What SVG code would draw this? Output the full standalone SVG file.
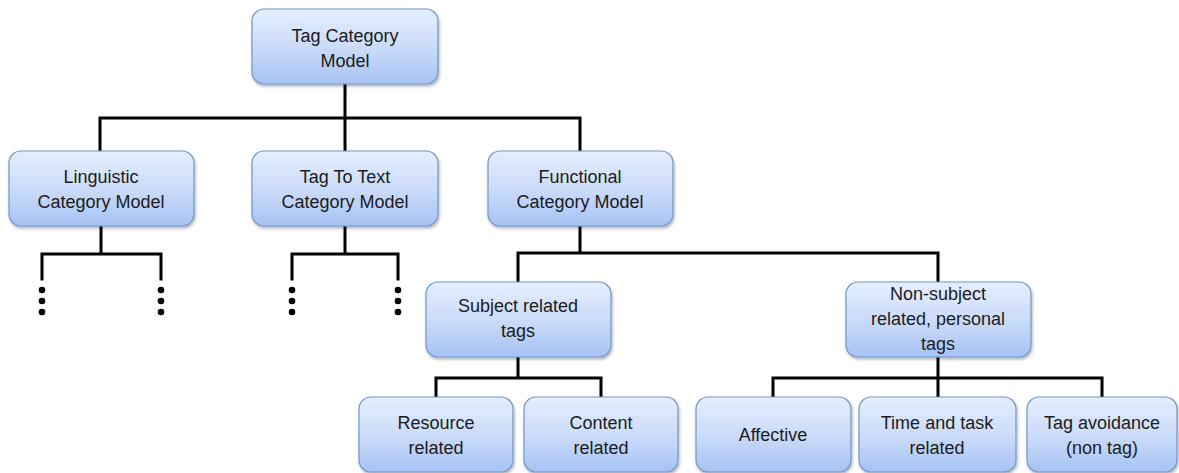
<svg xmlns="http://www.w3.org/2000/svg" width="1179" height="473" viewBox="0 0 1179 473">
  <defs>
    <linearGradient id="boxFill" x1="0" y1="0" x2="0" y2="1">
      <stop offset="0" stop-color="#e4eefd"/>
      <stop offset="0.5" stop-color="#cbdcfa"/>
      <stop offset="1" stop-color="#a6c3f4"/>
    </linearGradient>
    <filter id="shadow" x="-10%" y="-10%" width="120%" height="130%">
      <feDropShadow dx="1" dy="2" stdDeviation="1.5" flood-color="#000" flood-opacity="0.3"/>
    </filter>
  </defs>
  <style>
    .box { fill: url(#boxFill); stroke: #7396c9; stroke-width: 1.2; filter: url(#shadow); }
    .lbl { font-family: "Liberation Sans", Arial, sans-serif; font-size: 18px; fill: #1c1c1c; text-anchor: middle; }
    .wire { fill: none; stroke: #000; stroke-width: 3; stroke-linecap: square; }
    .dot { fill: #000; }
  </style>
  <rect width="1179" height="473" fill="#fff"/>

  <!-- tree connectors -->
  <g id="connectors">
    <path class="wire" d="M345 84 V118 M100 118 H580 M100 118 V151 M345 118 V151 M580 118 V151"/>
    <path class="wire" d="M101 226 V254 M42 254 H161 M42 254 V279 M161 254 V279"/>
    <path class="wire" d="M345 226 V254 M292 254 H398 M292 254 V279 M398 254 V279"/>
    <path class="wire" d="M580 226 V253 M518 253 H938 M518 253 V282 M938 253 V282"/>
    <path class="wire" d="M518 357 V378 M436 378 H601 M436 378 V397 M601 378 V397"/>
    <path class="wire" d="M938 357 V378 M773 378 H1102 M773 378 V397 M938 378 V397 M1102 378 V397"/>
    <!-- ellipsis dots for elided branches -->
    <circle class="dot" cx="42" cy="290" r="3.3"/>
    <circle class="dot" cx="42" cy="301" r="3.3"/>
    <circle class="dot" cx="42" cy="312" r="3.3"/>
    <circle class="dot" cx="161" cy="290" r="3.3"/>
    <circle class="dot" cx="161" cy="301" r="3.3"/>
    <circle class="dot" cx="161" cy="312" r="3.3"/>
    <circle class="dot" cx="292" cy="290" r="3.3"/>
    <circle class="dot" cx="292" cy="301" r="3.3"/>
    <circle class="dot" cx="292" cy="312" r="3.3"/>
    <circle class="dot" cx="398" cy="290" r="3.3"/>
    <circle class="dot" cx="398" cy="301" r="3.3"/>
    <circle class="dot" cx="398" cy="312" r="3.3"/>
  </g>

  <g id="tag-category-model">
    <rect class="box" x="252" y="9" width="186" height="75" rx="12"/>
    <text class="lbl" x="345" y="42">Tag Category</text>
    <text class="lbl" x="345" y="67">Model</text>
  </g>

  <g id="linguistic-category-model">
    <rect class="box" x="9" y="151" width="185" height="75" rx="12"/>
    <text class="lbl" x="101" y="183">Linguistic</text>
    <text class="lbl" x="101" y="208">Category Model</text>
  </g>

  <g id="tag-to-text-category-model">
    <rect class="box" x="252" y="151" width="186" height="75" rx="12"/>
    <text class="lbl" x="345" y="183">Tag To Text</text>
    <text class="lbl" x="345" y="208">Category Model</text>
  </g>

  <g id="functional-category-model">
    <rect class="box" x="488" y="151" width="185" height="75" rx="12"/>
    <text class="lbl" x="580" y="183">Functional</text>
    <text class="lbl" x="580" y="208">Category Model</text>
  </g>

  <g id="subject-related-tags">
    <rect class="box" x="426" y="282" width="185" height="75" rx="12"/>
    <text class="lbl" x="518" y="312">Subject related</text>
    <text class="lbl" x="518" y="337">tags</text>
  </g>

  <g id="non-subject-related-tags">
    <rect class="box" x="846" y="282" width="185" height="75" rx="12"/>
    <text class="lbl" x="938" y="300">Non-subject</text>
    <text class="lbl" x="938" y="325">related, personal</text>
    <text class="lbl" x="938" y="350">tags</text>
  </g>

  <g id="resource-related">
    <rect class="box" x="359" y="397" width="154" height="75" rx="12"/>
    <text class="lbl" x="436" y="429">Resource</text>
    <text class="lbl" x="436" y="454">related</text>
  </g>

  <g id="content-related">
    <rect class="box" x="524" y="397" width="154" height="75" rx="12"/>
    <text class="lbl" x="601" y="429">Content</text>
    <text class="lbl" x="601" y="454">related</text>
  </g>

  <g id="affective">
    <rect class="box" x="696" y="397" width="155" height="75" rx="12"/>
    <text class="lbl" x="773" y="441">Affective</text>
  </g>

  <g id="time-and-task-related">
    <rect class="box" x="859" y="397" width="157" height="75" rx="12"/>
    <text class="lbl" x="937" y="429">Time and task</text>
    <text class="lbl" x="937" y="454">related</text>
  </g>

  <g id="tag-avoidance">
    <rect class="box" x="1027" y="397" width="150" height="75" rx="12"/>
    <text class="lbl" x="1102" y="429">Tag avoidance</text>
    <text class="lbl" x="1102" y="454">(non tag)</text>
  </g>
</svg>
